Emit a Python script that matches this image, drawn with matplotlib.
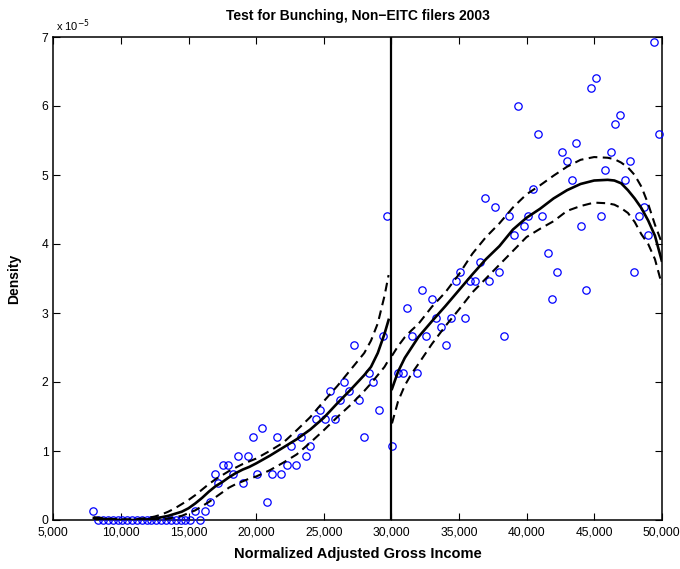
import matplotlib
matplotlib.use('Agg')
import matplotlib.pyplot as plt

plt.rcParams['font.family'] = ['Liberation Sans', 'DejaVu Sans']

# ---------------- data (density in units of 1e-5) ----------------
agi_left = [7960, 8320, 8680, 9040, 9400, 9750, 10110, 10470, 10830, 11190, 11540,
            11900, 12260, 12620, 12980, 13330, 13690, 14050, 14410, 14770, 15120,
            15490, 15850, 16210, 16570, 16930, 17200, 17570, 17940, 18270, 18680,
            19010, 19420, 19750, 20090, 20460, 20780, 21150, 21520, 21840, 22260,
            22580, 22930, 23320, 23690, 23990, 24410, 24730, 25120, 25470, 25810,
            26200, 26520, 26870, 27240, 27610, 27980, 28330, 28650, 29070, 29380,
            29660]
dens_left = [0.133, 0, 0, 0, 0, 0, 0, 0, 0, 0, 0,
             0, 0, 0, 0, 0, 0, 0, 0, 0, 0,
             0.133, 0, 0.133, 0.267, 0.667, 0.533, 0.8, 0.8, 0.667, 0.933,
             0.533, 0.933, 1.2, 0.667, 1.333, 0.267, 0.667, 1.2, 0.667, 0.8,
             1.067, 0.8, 1.2, 0.933, 1.067, 1.467, 1.6, 1.467, 1.867, 1.467,
             1.733, 2.0, 1.867, 2.533, 1.733, 1.2, 2.133, 2.0, 1.6, 2.667,
             4.4]

agi_right = [30070, 30470, 30890, 31180, 31510, 31900, 32250, 32590, 32990, 33300,
             33650, 34020, 34390, 34760, 35100, 35430, 35800, 36170, 36540, 36930,
             37250, 37650, 37960, 38310, 38700, 39050, 39350, 39790, 40110, 40500,
             40830, 41170, 41570, 41910, 42230, 42650, 42970, 43340, 43660, 44030,
             44420, 44750, 45120, 45490, 45830, 46230, 46540, 46910, 47280, 47630,
             47970, 48340, 48690, 49010, 49430, 49800]
dens_right = [1.067, 2.133, 2.133, 3.067, 2.667, 2.133, 3.333, 2.667, 3.2, 2.933,
              2.8, 2.533, 2.933, 3.467, 3.6, 2.933, 3.467, 3.467, 3.733, 4.667,
              3.467, 4.533, 3.6, 2.667, 4.4, 4.133, 6.0, 4.267, 4.4, 4.8,
              5.6, 4.4, 3.867, 3.2, 3.6, 5.333, 5.2, 4.933, 5.467, 4.267,
              3.333, 6.267, 6.4, 4.4, 5.067, 5.333, 5.733, 5.867, 4.933, 5.2,
              3.6, 4.4, 4.533, 4.133, 6.933, 5.6]

fit_x_left = [8000, 9000, 10000, 11000, 12000, 12500, 13000, 13500, 14000, 14500,
              15000, 15500, 16000, 16500, 17000, 17500, 18000, 18500, 19000, 19500,
              20000, 21000, 22000, 23000, 24000, 25000, 26000, 27000, 28000, 28500,
              29000, 29500, 29800]
fit_mid_left = [0.03, 0.01, 0.0, 0.0, 0.01, 0.02, 0.04, 0.06, 0.09, 0.12,
                0.17, 0.24, 0.32, 0.41, 0.49, 0.55, 0.62, 0.68, 0.73, 0.77,
                0.82, 0.93, 1.05, 1.17, 1.31, 1.48, 1.69, 1.89, 2.1, 2.22,
                2.42, 2.7, 2.9]
fit_hi_left = [0.04, 0.02, 0.01, 0.01, 0.03, 0.05, 0.08, 0.12, 0.17, 0.23,
               0.29, 0.36, 0.44, 0.52, 0.59, 0.65, 0.71, 0.76, 0.81, 0.85,
               0.89, 1.0, 1.12, 1.3, 1.49, 1.72, 1.94, 2.18, 2.42, 2.6,
               2.85, 3.25, 3.55]
fit_lo_left = [0.02, 0.0, 0.0, 0.0, 0.0, 0.0, 0.01, 0.02, 0.04, 0.06,
               0.1, 0.14, 0.2, 0.26, 0.33, 0.4, 0.47, 0.52, 0.56, 0.6,
               0.63, 0.72, 0.83, 0.95, 1.12, 1.3, 1.49, 1.67, 1.87, 1.98,
               2.1, 2.22, 2.32]

fit_x_right = [30050, 30500, 31000, 31500, 32000, 33000, 34000, 35000, 36000, 37000,
               38000, 39000, 40000, 41000, 42000, 43000, 44000, 45000, 46000, 46500,
               47000, 47500, 48000, 48500, 49000, 49500, 50000]
fit_mid_right = [1.9, 2.15, 2.35, 2.5, 2.65, 2.88, 3.1, 3.33, 3.56, 3.78,
                 3.97, 4.21, 4.38, 4.51, 4.66, 4.78, 4.87, 4.92, 4.93, 4.92,
                 4.88, 4.78, 4.66, 4.52, 4.34, 4.12, 3.76]
fit_hi_right = [2.38, 2.52, 2.65, 2.75, 2.84, 3.09, 3.3, 3.56, 3.86, 4.1,
                4.3, 4.53, 4.72, 4.85, 4.99, 5.12, 5.22, 5.26, 5.25, 5.23,
                5.18, 5.11, 5.0, 4.83, 4.58, 4.28, 4.02]
fit_lo_right = [1.4, 1.72, 1.95, 2.12, 2.26, 2.55, 2.81, 3.05, 3.3, 3.5,
                3.7, 3.9, 4.1, 4.22, 4.33, 4.48, 4.55, 4.6, 4.59, 4.57,
                4.52, 4.45, 4.32, 4.14, 4.0, 3.78, 3.42]

cutoff = 30000
x_ticks = [5000, 10000, 15000, 20000, 25000, 30000, 35000, 40000, 45000, 50000]
x_ticklabels = ['5,000', '10,000', '15,000', '20,000', '25,000', '30,000',
                '35,000', '40,000', '45,000', '50,000']
y_ticks = [0, 1, 2, 3, 4, 5, 6, 7]

# ---------------- figure ----------------
fig = plt.figure(figsize=(6.8, 5.69), dpi=100)
ax = fig.add_axes([53.3 / 680, 1 - 520 / 569, 608.4 / 680, 483 / 569])

mk = dict(linestyle='none', marker='o', markersize=5.3, markerfacecolor='none',
          markeredgecolor='#0000ff', markeredgewidth=0.9, clip_on=False, zorder=3)
ax.plot(agi_left, dens_left, **mk)
ax.plot(agi_right, dens_right, **mk)

for fx, fm, fh, fl in [(fit_x_left, fit_mid_left, fit_hi_left, fit_lo_left),
                       (fit_x_right, fit_mid_right, fit_hi_right, fit_lo_right)]:
    ax.plot(fx, fm, color='black', lw=1.9, zorder=4)
    ax.plot(fx, fh, color='black', lw=1.5, dashes=(4.2, 2.6), zorder=4)
    ax.plot(fx, fl, color='black', lw=1.5, dashes=(4.2, 2.6), zorder=4)

ax.axvline(cutoff, color='black', lw=1.6, zorder=5)

ax.set_xlim(5000, 50000)
ax.set_ylim(0, 7)
ax.set_xticks(x_ticks)
ax.set_xticklabels(x_ticklabels)
ax.set_yticks(y_ticks)
ax.set_yticklabels([str(v) for v in y_ticks])
ax.tick_params(direction='in', length=5, width=0.8, top=True, right=True,
               labelsize=8.7, colors='black')
ax.tick_params(axis='x', pad=4.5)
ax.tick_params(axis='y', pad=3.5)
for s in ax.spines.values():
    s.set_linewidth(1.1)

ax.text(0.004, 1.006, 'x 10$^{-5}$', transform=ax.transAxes, fontsize=8,
        ha='left', va='bottom')
ax.set_title('Test for Bunching, Non\u2212EITC filers 2003', fontsize=10,
             fontweight='bold', pad=12.5)
ax.set_xlabel('Normalized Adjusted Gross Income', fontsize=10.5,
              fontweight='bold', labelpad=6.5)
ax.set_ylabel('Density', fontsize=10, fontweight='bold', labelpad=14.5)

fig.savefig('out.png', dpi=100)
